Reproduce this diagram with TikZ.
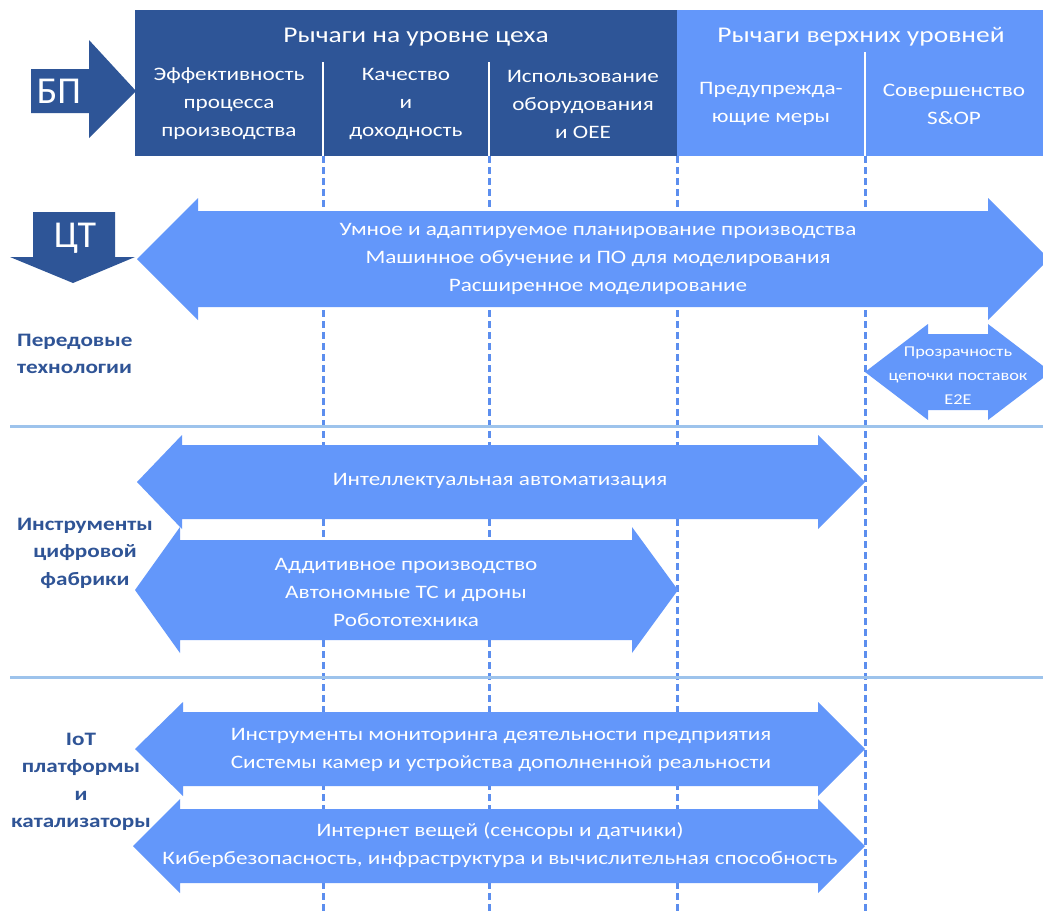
\documentclass[tikz,border=0pt]{standalone}
\usepackage{fontspec}
\setmainfont{Carlito}[FakeStretch=1.22]
\newfontfamily\plainfont{Carlito}
\definecolor{darkbl}{RGB}{46,85,151}
\definecolor{lightbl}{RGB}{99,151,250}
\definecolor{arrbl}{RGB}{99,151,250}
\definecolor{dashbl}{RGB}{92,142,238}
\definecolor{sepbl}{RGB}{157,195,236}
\definecolor{labbl}{RGB}{47,84,150}
\newcommand\dbarrow[7]{% left tip x, left back x, right back x, right tip x, yc, shaft half, head half
  \fill[arrbl] (#1,#5) -- (#2,#5-#7) -- (#2,#5-#6) -- (#3,#5-#6) -- (#3,#5-#7) -- (#4,#5)
    -- (#3,#5+#7) -- (#3,#5+#6) -- (#2,#5+#6) -- (#2,#5+#7) -- cycle;}
\begin{document}
\begin{tikzpicture}[x=1pt,y=-1pt,
  arrowtext/.style={text=white, align=center, inner sep=0pt, font=\fontsize{19}{28}\selectfont},
  smalltext/.style={text=white, align=center, inner sep=0pt, font=\fontsize{15}{24}\selectfont},
  coltext/.style={text=white, align=center, inner sep=0pt, font=\fontsize{19}{28}\selectfont},
  titletext/.style={text=white, inner sep=0pt, font=\fontsize{22.5}{26}\selectfont},
  bigtext/.style={text=white, inner sep=0pt, font=\plainfont\fontsize{38}{42}\selectfont},
  labeltext/.style={text=labbl, inner sep=0pt, font=\fontsize{19}{27.5}\selectfont\bfseries},
  dashline/.style={draw=dashbl, line width=3pt, dash pattern=on 7pt off 4pt},
  sepline/.style={draw=sepbl, line width=3pt},
  hdrline/.style={draw=white, line width=2pt}]
\useasboundingbox (0,0) rectangle (1043,913);
\fill[white] (0,0) rectangle (1043,913);

% header boxes
\fill[darkbl] (135,10) rectangle (677,156);
\fill[lightbl] (677,10) rectangle (1043,156);
\draw[hdrline] (323,62) -- (323,156);
\draw[hdrline] (489,62) -- (489,156);
\draw[hdrline] (865,52) -- (865,156);

% dashed column lines
\coordinate (d1a) at (323,156); \coordinate (d1b) at (323,913);
\coordinate (d2a) at (489,156); \coordinate (d2b) at (489,913);
\coordinate (d3a) at (677,156); \coordinate (d3b) at (677,913);
\coordinate (d4a) at (865,156); \coordinate (d4b) at (865,913);
\draw[dashline] (d1a) -- (d1b);
\draw[dashline] (d2a) -- (d2b);
\draw[dashline] (d3a) -- (d3b);
\draw[dashline] (d4a) -- (d4b);

% separators
\coordinate (s1a) at (10,426); \coordinate (s1b) at (1043,426);
\coordinate (s2a) at (10,677); \coordinate (s2b) at (1043,677);
\draw[sepline] (s1a) -- (s1b);
\draw[sepline] (s2a) -- (s2b);

% header texts
\node[titletext] (t1) at (416,37) {Рычаги на уровне цеха};
\node[titletext] (t2) at (861,37) {Рычаги верхних уровней};
\node[coltext] (c1) at (229,104) {Эффективность\\процесса\\производства};
\node[coltext] (c2) at (406,104) {Качество\\и\\доходность};
\node[coltext] (c3) at (583,104) {Использование\\оборудования\\и OEE};
\node[coltext] (c4) at (771,104) {Предупрежда-\\ющие меры};
\node[coltext] (c5) at (954,104) {Совершенство\\S\&OP};

% BP arrow
\fill[darkbl] (31,69) -- (89,69) -- (89,40) -- (136,91) -- (89,138) -- (89,113) -- (31,113) -- cycle;
\node[bigtext] (bp) at (59,91) {БП};

% CT arrow
\fill[darkbl] (33,212) -- (115,212) -- (115,257) -- (135,257) -- (73,283) -- (10,257) -- (33,257) -- cycle;
\node[bigtext] (ct) at (75,238) {ЦТ};

% left labels
\node[labeltext, anchor=west, align=left] (l1) at (17,354) {Передовые\\технологии};
\node[labeltext, align=center] (l2) at (85,553) {Инструменты\\цифровой\\фабрики};
\node[labeltext, align=center] (l3) at (81,782) {IoT\\платформы\\и\\катализаторы};

% arrows
\dbarrow{137}{198}{988}{1049}{259}{48}{61}
\dbarrow{865}{928}{988}{1051}{372}{38}{48}
\dbarrow{137}{182}{818}{865}{482}{37}{47}
\dbarrow{135}{180}{632}{678}{590}{50}{63}
\dbarrow{135}{183}{818}{865}{749}{37}{47}
\dbarrow{133}{180}{818}{865}{846}{37}{47}

% arrow texts
\node[arrowtext] (a1) at (598,259) {Умное и адаптируемое планирование производства\\Машинное обучение и ПО для моделирования\\Расширенное моделирование};
\node[smalltext] (a2) at (958,376) {Прозрачность\\цепочки поставок\\E2E};
\node[arrowtext] (a3) at (500,481) {Интеллектуальная автоматизация};
\node[arrowtext] (a4) at (406,592) {Аддитивное производство\\Автономные ТС и дроны\\Робототехника};
\node[arrowtext] (a5) at (501,750) {Инструменты мониторинга деятельности предприятия\\Системы камер и устройства дополненной реальности};
\node[arrowtext] (a6) at (500,845) {Интернет вещей (сенсоры и датчики)\\Кибербезопасность, инфраструктура и вычислительная способность};
\end{tikzpicture}
\end{document}
